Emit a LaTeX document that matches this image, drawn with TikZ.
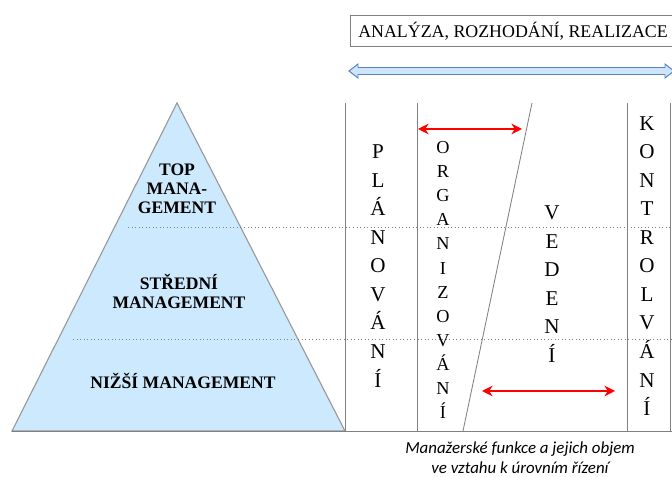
\documentclass[tikz,border=0pt]{standalone}
\usepackage{fontspec}
\setmainfont{Liberation Serif}
\newfontfamily\popisek{Carlito}
\usetikzlibrary{shapes,positioning,arrows,arrows.meta}
\definecolor{pyramida}{RGB}{205,233,253}
\definecolor{sipkamodra}{RGB}{205,228,250}
\definecolor{sipkaokraj}{RGB}{84,132,196}
\definecolor{cara}{RGB}{128,128,128}
\tikzset {
uroven/.style={font={\fontsize{12.5}{13.5}\selectfont\bfseries},align=center,inner sep=0},
funkce/.style={font={\fontsize{15}{20.3}\selectfont},align=center,inner sep=0},
funkcemala/.style={font={\fontsize{13}{17.1}\selectfont},align=center,inner sep=0},
hranice/.style={draw=cara,line width=0.6pt},
cast/.style={draw=gray,dotted,line width=0.5pt},
rozsah/.style={{Stealth[length=7.5pt,width=7.5pt]}-{Stealth[length=7.5pt,width=7.5pt]},draw=red,line width=1.8pt}
}

\begin{document}
\begin{tikzpicture}
[x=0.025cm,y=-0.025cm]
\useasboundingbox (0,0) rectangle (672,477);
\filldraw[fill=pyramida,draw=cara!80,line width=0.8pt] (12,431) -- (177,103) -- (345,431) -- cycle;
\draw[cast] (128,227) -- (672,227);
\draw[cast] (73,339) -- (672,339);
\draw[hranice] (345,103) -- (345,431);
\draw[hranice] (417,103) -- (417,431);
\draw[hranice] (627,103) -- (627,431);
\draw[hranice] (670,103) -- (670,431);
\draw[hranice] (532,103) -- (463,431);
\draw[hranice] (12,431) -- (672,431);

\node[draw=cara,anchor=west,inner xsep=5.7pt,minimum height=0.775cm,font={\fontsize{12.7}{15}\selectfont}] (cinnosti) at (350,31) {ANALÝZA, ROZHODÁNÍ, REALIZACE};
\filldraw[fill=sipkamodra,draw=sipkaokraj,line width=0.7pt] (349,71) -- (358,64) -- (358,67.5) -- (665,67.5) -- (665,64) -- (674,71) -- (665,78) -- (665,74.5) -- (358,74.5) -- (358,78) -- cycle;

\node[uroven] (top) at (177,189) {TOP\\MANA-\\GEMENT};
\node[uroven] (stredni) at (179,291) {STŘEDNÍ\\MANAGEMENT};
\node[uroven] (nizsi) at (183,381) {NIŽŠÍ MANAGEMENT};

\node[funkce] (planovani) at (378,266) {P\\L\\Á\\N\\O\\V\\Á\\N\\Í};
\node[funkcemala] (organizovani) at (443,280) {O\\R\\G\\A\\N\\I\\Z\\O\\V\\Á\\N\\Í};
\node[funkce] (vedeni) at (552,284) {V\\E\\D\\E\\N\\Í};
\node[funkce] (kontrolvani) at (647,266) {K\\O\\N\\T\\R\\O\\L\\V\\Á\\N\\Í};

\coordinate (org zacatek) at (418,129);
\coordinate (org konec) at (522,129);
\coordinate (ved zacatek) at (482,391);
\coordinate (ved konec) at (615,391);
\draw[rozsah] (org zacatek) to (org konec);
\draw[rozsah] (ved zacatek) to (ved konec);

\node[font={\popisek\itshape\fontsize{12}{14.5}\selectfont},align=center,inner sep=0] (popis) at (520,458) {Manažerské funkce a jejich objem\\ve vztahu k úrovním řízení};
\end{tikzpicture}
\end{document}
